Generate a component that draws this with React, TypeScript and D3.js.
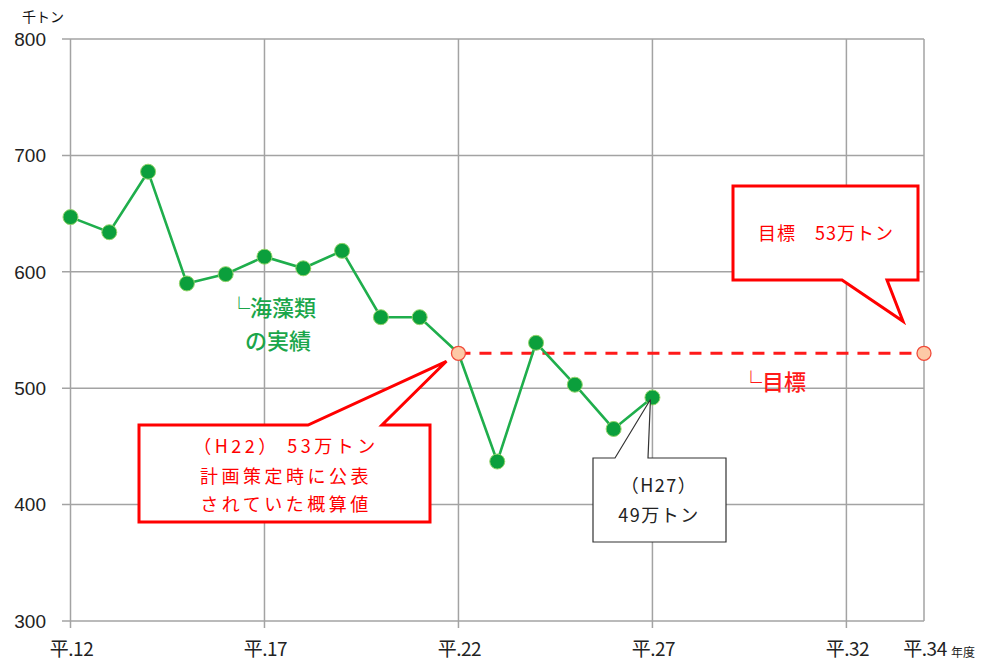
import React from "react";
import * as d3 from "d3";

const years = [12, 13, 14, 15, 16, 17, 18, 19, 20, 21, 22, 23, 24, 25, 26, 27];
const actual = [647, 634, 686, 590, 598, 613, 603, 618, 561, 561, 530, 437, 539, 503, 465, 492];
const targetYears = [22, 34];
const targetValues = [530, 530];
const xTicks = [12, 17, 22, 27, 32, 34];
const xTickLabels = ["平.12", "平.17", "平.22", "平.27", "平.32", "平.34"];
const yTicks = [300, 400, 500, 600, 700, 800];

const W = 982;
const H = 664;
const JP = "'Noto Sans CJK JP', 'Noto Sans', sans-serif";

export default function App() {
  const x = d3.scaleLinear().domain([12, 34]).range([70.5, 924]);
  const y = d3.scaleLinear().domain([300, 800]).range([621, 39]);
  const line = d3
    .line<number>()
    .x((_, i) => x(years[i]))
    .y((d) => y(d));
  const tline = d3
    .line<number>()
    .x((_, i) => x(targetYears[i]))
    .y((d) => y(d));

  const gridColor = "#a3a3a3";

  // callout tips computed from data positions
  const tip1 = [x(22) - 12, y(530) + 8];
  const tip2 = [x(27) - 2, y(492) + 2];
  const tip3 = [x(34) - 21, y(530) - 32];

  const box1 = { l: 139, r: 430, t: 425, b: 522 };
  const p1 = `M${box1.l},${box1.t} L308,${box1.t} L${tip1[0]},${tip1[1]} L382,${box1.t} L${box1.r},${box1.t} L${box1.r},${box1.b} L${box1.l},${box1.b} Z`;
  const box2 = { l: 593, r: 726, t: 458, b: 542 };
  const p2 = `M${box2.l},${box2.t} L615,${box2.t} L${tip2[0]},${tip2[1]} L648,${box2.t} L${box2.r},${box2.t} L${box2.r},${box2.b} L${box2.l},${box2.b} Z`;
  const box3 = { l: 733, r: 918, t: 186, b: 280 };
  const p3 = `M${box3.l},${box3.t} L${box3.r},${box3.t} L${box3.r},${box3.b} L887,${box3.b} L${tip3[0]},${tip3[1]} L842,${box3.b} L${box3.l},${box3.b} Z`;

  return (
    <svg
      width={W}
      height={H}
      style={{ position: "absolute", left: 0, top: 0, background: "#fff" }}
    >
      {/* horizontal gridlines */}
      {yTicks.map((t) => (
        <line
          key={"h" + t}
          x1={62}
          x2={924}
          y1={y(t)}
          y2={y(t)}
          stroke={gridColor}
          strokeWidth={1.5}
        />
      ))}
      {/* vertical gridlines */}
      {xTicks.map((t) => (
        <line
          key={"v" + t}
          x1={x(t)}
          x2={x(t)}
          y1={y(800)}
          y2={t === 34 ? y(300) : y(300) + 7}
          stroke={gridColor}
          strokeWidth={1.5}
        />
      ))}
      {/* y tick labels */}
      {yTicks.map((t) => (
        <text
          key={"yl" + t}
          x={46}
          y={y(t)}
          dy="0.36em"
          textAnchor="end"
          fontFamily="'Liberation Sans', Arial, sans-serif"
          fontSize={19}
          fill="#222"
        >
          {t}
        </text>
      ))}
      <text x={22} y={22} fontFamily={JP} fontSize={14} fill="#111">
        千トン
      </text>
      {/* x tick labels */}
      {xTicks.map((t, i) => (
        <text
          key={"xl" + t}
          x={x(t) + 1}
          y={656}
          textAnchor="middle"
          fontFamily={JP}
          fontSize={19}
          letterSpacing={-0.5}
          fill="#222"
        >
          {xTickLabels[i]}
        </text>
      ))}
      <text x={951} y={657} fontFamily={JP} fontSize={12} fill="#222">
        年度
      </text>

      {/* target dashed line */}
      <path
        d={tline(targetValues) || ""}
        fill="none"
        stroke="#ff1a1a"
        strokeWidth={3}
        strokeDasharray="12,9"
      />

      {/* actual line */}
      <path d={line(actual) || ""} fill="none" stroke="#1fae4c" strokeWidth={2.6} />
      {actual.map((v, i) =>
        years[i] === 22 ? null : (
          <circle
            key={"c" + i}
            cx={x(years[i])}
            cy={y(v)}
            r={7.5}
            fill="#0b9f3c"
            stroke="#93d46a"
            strokeWidth={1}
          />
        )
      )}
      {targetYears.map((yr, i) => (
        <circle
          key={"t" + i}
          cx={x(yr)}
          cy={y(targetValues[i])}
          r={7}
          fill="#fdc9a6"
          stroke="#f04a3a"
          strokeWidth={1.3}
        />
      ))}

      {/* series labels */}
      <text fontFamily={JP} fontSize={22} fill="#1aa64a" fontWeight={500}>
        <tspan x={228} y={316}>└海藻類</tspan>
        <tspan x={245} y={349}>の実績</tspan>
      </text>
      <text x={740} y={390} fontFamily={JP} fontSize={22} fill="#ff1a1a" fontWeight={500}>
        └目標
      </text>

      {/* callout 1 */}
      <path d={p1} fill="#fff" stroke="#ff0000" strokeWidth={3} strokeLinejoin="miter" />
      <text fontFamily={JP} fontSize={18} fill="#ff0000" textAnchor="middle" letterSpacing={3.5}>
        <tspan x={286} y={453}>（H22） 53万トン</tspan>
        <tspan x={286} y={483}>計画策定時に公表</tspan>
        <tspan x={286} y={511}>されていた概算値</tspan>
      </text>

      {/* callout 2 */}
      <path d={p2} fill="#fff" stroke="#333" strokeWidth={1.2} />
      <text fontFamily={JP} fontSize={18} fill="#222" textAnchor="middle" letterSpacing={1.5}>
        <tspan x={659} y={492}>（H27）</tspan>
        <tspan x={659} y={522}>49万トン</tspan>
      </text>

      {/* callout 3 */}
      <path d={p3} fill="#fff" stroke="#ff0000" strokeWidth={3} />
      <text x={826} y={240} fontFamily={JP} fontSize={18} fill="#ff0000" textAnchor="middle" letterSpacing={1}>
        目標　53万トン
      </text>
    </svg>
  );
}
